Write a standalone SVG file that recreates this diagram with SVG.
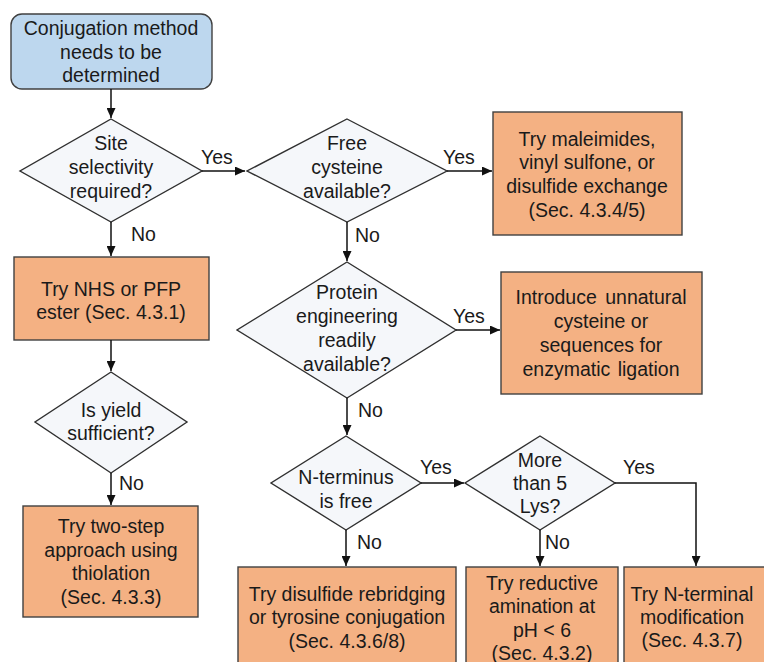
<svg xmlns="http://www.w3.org/2000/svg" width="764" height="662" viewBox="0 0 764 662">
<defs>
<marker id="ah" markerUnits="userSpaceOnUse" markerWidth="11" markerHeight="9" refX="10" refY="4.5" orient="auto">
<path d="M0,0 L10,4.5 L0,9 z" fill="#111"/>
</marker>
<style>
text{font-family:"Liberation Sans",Arial,sans-serif;font-size:19.5px;fill:#1a1a1a;text-anchor:middle}
.lbl{text-anchor:start}
.start{fill:#bdd7ee;stroke:#404040;stroke-width:1.4}
.box{fill:#f4b183;stroke:#404040;stroke-width:1.4}
.dia{fill:#f5f7fa;stroke:#303030;stroke-width:1.4}
.con{fill:none;stroke:#111;stroke-width:1.5;marker-end:url(#ah)}
</style>
</defs>
<rect width="764" height="662" fill="#fff"/>

<g id="start">
<rect class="start" x="11" y="14" width="201" height="75" rx="11"/>
<text x="111" y="35">Conjugation method</text>
<text x="111" y="59">needs to be</text>
<text x="111" y="82">determined</text>
</g>

<g id="d-site">
<polygon class="dia" points="111,119 202,171 111,222 20,171"/>
<text x="111" y="150">Site</text>
<text x="111" y="174">selectivity</text>
<text x="111" y="198">required?</text>
</g>

<g id="b-nhs">
<rect class="box" x="14" y="257" width="195" height="83"/>
<text x="111" y="296">Try NHS or PFP</text>
<text x="111" y="319">ester (Sec. 4.3.1)</text>
</g>

<g id="d-yield">
<polygon class="dia" points="111,372 187,422 111,473 35,422"/>
<text x="111" y="417">Is yield</text>
<text x="111" y="440">sufficient?</text>
</g>

<g id="b-twostep">
<rect class="box" x="23" y="506" width="175" height="111"/>
<text x="111" y="533">Try two-step</text>
<text x="111" y="557">approach using</text>
<text x="111" y="580">thiolation</text>
<text x="111" y="604">(Sec. 4.3.3)</text>
</g>

<g id="d-cys">
<polygon class="dia" points="347,119 447,171 347,222 247,171"/>
<text x="347" y="150">Free</text>
<text x="347" y="174">cysteine</text>
<text x="347" y="198">available?</text>
</g>

<g id="b-maleimide">
<rect class="box" x="493" y="112" width="189" height="123"/>
<text x="587" y="146">Try maleimides,</text>
<text x="587" y="169">vinyl sulfone, or</text>
<text x="587" y="193">disulfide exchange</text>
<text x="587" y="217">(Sec. 4.3.4/5)</text>
</g>

<g id="d-protein">
<polygon class="dia" points="347,262 456,330 347,398 237,330"/>
<text x="347" y="299">Protein</text>
<text x="347" y="323">engineering</text>
<text x="347" y="347">readily</text>
<text x="347" y="371">available?</text>
</g>

<g id="b-unnatural">
<rect class="box" x="501" y="272" width="201" height="122"/>
<text x="601" y="304" word-spacing="3">Introduce unnatural</text>
<text x="601" y="328">cysteine or</text>
<text x="601" y="352">sequences for</text>
<text x="601" y="376" word-spacing="2">enzymatic ligation</text>
</g>

<g id="d-nterm">
<polygon class="dia" points="346,436 421,483 346,530 271,483"/>
<text x="346" y="484">N-terminus</text>
<text x="346" y="508">is free</text>
</g>

<g id="d-lys">
<polygon class="dia" points="540,436 615,483 540,530 465,483"/>
<text x="540" y="467">More</text>
<text x="540" y="490">than 5</text>
<text x="540" y="513">Lys?</text>
</g>

<g id="b-rebridge">
<rect class="box" x="238" y="567" width="218" height="110"/>
<text x="347" y="601">Try disulfide rebridging</text>
<text x="347" y="624">or tyrosine conjugation</text>
<text x="347" y="648">(Sec. 4.3.6/8)</text>
</g>

<g id="b-reductive">
<rect class="box" x="466" y="567" width="152" height="110"/>
<text x="542" y="590">Try reductive</text>
<text x="542" y="613">amination at</text>
<text x="542" y="637">pH &lt; 6</text>
<text x="542" y="660">(Sec. 4.3.2)</text>
</g>

<g id="b-nterminal">
<rect class="box" x="624" y="567" width="160" height="110"/>
<text x="692" y="601">Try N-terminal</text>
<text x="692" y="624">modification</text>
<text x="692" y="647">(Sec. 4.3.7)</text>
</g>

<g id="connectors">
<path class="con" d="M111,89 V118"/>
<path class="con" d="M202,171 H245"/>
<path class="con" d="M111,222 V256"/>
<path class="con" d="M111,340 V371"/>
<path class="con" d="M111,473 V505"/>
<path class="con" d="M447,171 H492"/>
<path class="con" d="M347,222 V261"/>
<path class="con" d="M456,330 H500"/>
<path class="con" d="M347,398 V435"/>
<path class="con" d="M421,483 H464"/>
<path class="con" d="M346,530 V566"/>
<path class="con" d="M540,530 V566"/>
<path class="con" d="M615,483 H696 V566"/>
<text class="lbl" x="201" y="164">Yes</text>
<text class="lbl" x="131" y="241">No</text>
<text class="lbl" x="119" y="490">No</text>
<text class="lbl" x="443" y="164">Yes</text>
<text class="lbl" x="355" y="242">No</text>
<text class="lbl" x="453" y="323">Yes</text>
<text class="lbl" x="358" y="417">No</text>
<text class="lbl" x="420" y="474">Yes</text>
<text class="lbl" x="357" y="549">No</text>
<text class="lbl" x="623" y="474">Yes</text>
<text class="lbl" x="545" y="549">No</text>
</g>
</svg>
